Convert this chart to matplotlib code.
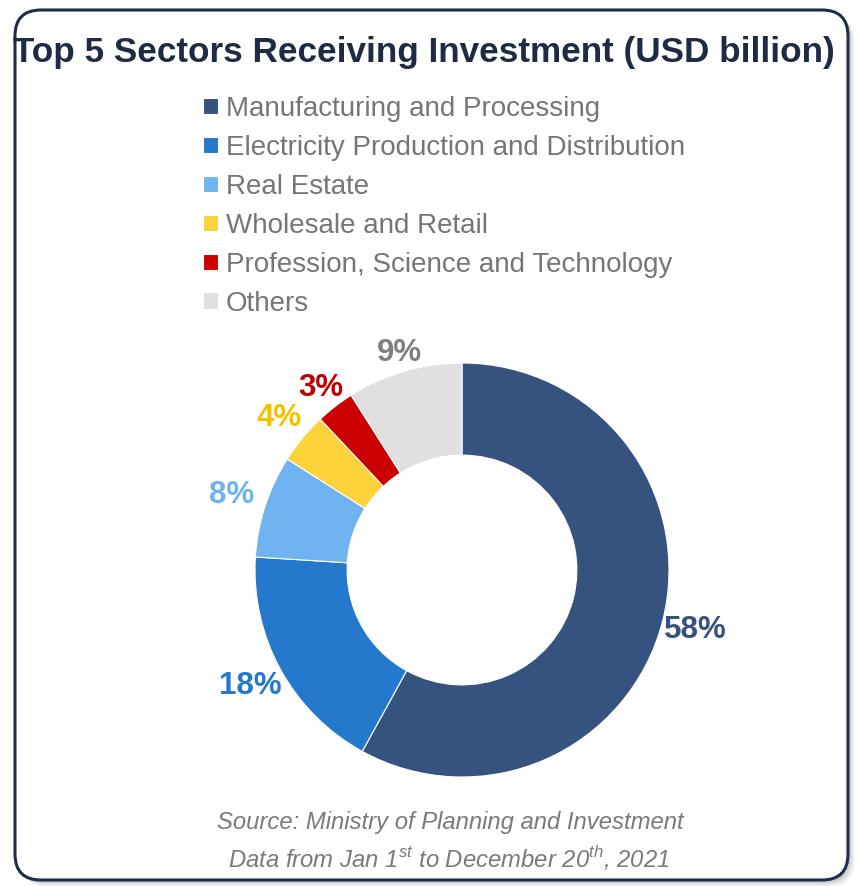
import matplotlib
matplotlib.use("Agg")
import numpy as np
import matplotlib.pyplot as plt
from matplotlib.patches import FancyBboxPatch

plt.rcParams['font.family'] = ['Liberation Sans', 'DejaVu Sans']
plt.rcParams['mathtext.fontset'] = 'custom'
plt.rcParams['mathtext.rm'] = 'Liberation Sans:italic'

sectors = ['Manufacturing and Processing', 'Electricity Production and Distribution',
           'Real Estate', 'Wholesale and Retail', 'Profession, Science and Technology', 'Others']
shares = [58, 18, 8, 4, 3, 9]
colors = ['#36527f', '#2479cc', '#6fb3f0', '#fdd23a', '#cc0000', '#e0e0e0']
label_colors = ['#36527f', '#2479cc', '#6fb3f0', '#f5c000', '#c00000', '#7f7f7f']
# how far out each % label sits (in radii)
label_dist = [1.166, 1.165, 1.17, 1.15, 1.11, 1.09]

W, H = 859, 886
fig = plt.figure(figsize=(W / 100, H / 100), dpi=100)

# background layer in pixel coordinates
bg = fig.add_axes([0, 0, 1, 1])
bg.set_xlim(0, W)
bg.set_ylim(H, 0)
bg.axis('off')

# soft shadow then the framed box
for off, a in [(7, 0.10), (5, 0.18), (3, 0.28)]:
    bg.add_patch(FancyBboxPatch((15 + off, 10 + off), 833, 870,
                                boxstyle='round,pad=0,rounding_size=26',
                                fc='#9a9a9a', ec='none', alpha=a, zorder=1))
bg.add_patch(FancyBboxPatch((15, 10), 833, 870, boxstyle='round,pad=0,rounding_size=26',
                            fc='white', ec='#1f2d4a', lw=2.2, zorder=2))

bg.text(424, 52, 'Top 5 Sectors Receiving Investment (USD billion)', ha='center', va='center',
        fontsize=25.3, fontweight='bold', color='#1f2a44', zorder=3)

bg.text(450, 822, 'Source: Ministry of Planning and Investment', ha='center', va='center',
        fontsize=17.2, style='italic', color='#7a7a7a', zorder=3)
bg.text(449, 858, r'Data from Jan 1$^{\mathrm{st}}$ to December 20$^{\mathrm{th}}$, 2021',
        ha='center', va='center', fontsize=17.2, style='italic', color='#7a7a7a', zorder=3)

# donut
cx, cy, r = 462, 570, 207
half = 240
ax = fig.add_axes([(cx - half) / W, (H - cy - half) / H, 2 * half / W, 2 * half / H])
ax.set_zorder(5)
wedges, _ = ax.pie(shares, colors=colors, startangle=90, counterclock=False, radius=1,
                   wedgeprops=dict(width=0.445, edgecolor='white', linewidth=0.8))
total = sum(shares)
for w, v, c, d in zip(wedges, shares, label_colors, label_dist):
    ang = np.deg2rad((w.theta1 + w.theta2) / 2)
    ax.text(d * np.cos(ang), d * np.sin(ang), f'{100 * v / total:.0f}%', ha='center',
            va='center', fontsize=22.5, fontweight='bold', color=c)
lim = half / r
ax.set_xlim(-lim, lim)
ax.set_ylim(-lim, lim)
ax.set_aspect('equal')
ax.axis('off')

leg = fig.legend(wedges, sectors, loc='upper left', bbox_to_anchor=(203 / W, 1 - 96 / H),
                 frameon=False, fontsize=20, labelcolor='#767676', handlelength=0.54,
                 handleheight=0.54, handletextpad=0.29, labelspacing=0.465, borderpad=0,
                 borderaxespad=0)
leg.set_zorder(6)

fig.savefig('out.png', dpi=100)
